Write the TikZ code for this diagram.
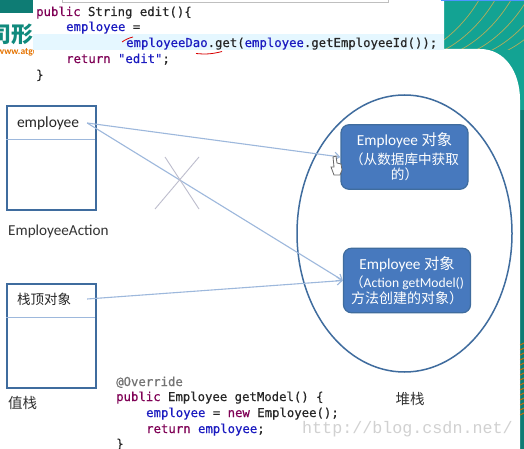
\documentclass[tikz,border=0pt]{standalone}
\usepackage{fontspec}
\setmainfont{Carlito}
\newfontfamily\cjk{Noto Sans CJK SC}
\newfontfamily\codefont[FakeBold=0.5]{DejaVu Sans Mono}
\newfontfamily\markfont{Liberation Mono}
\usetikzlibrary{arrows.meta,positioning}
\definecolor{teal1}{HTML}{13A393}
\definecolor{teal2}{HTML}{0E7C74}
\definecolor{hatchgold}{HTML}{B3AE5A}
\definecolor{frameblue}{HTML}{3F6C9E}
\definecolor{linkblue}{HTML}{9DB8DC}
\definecolor{objblue}{HTML}{4779BE}
\definecolor{kwcolor}{HTML}{7F0055}
\definecolor{fieldcolor}{HTML}{1A1AC0}
\newcommand{\kw}[1]{\textcolor{kwcolor}{#1}}
\newcommand{\fld}[1]{\textcolor{fieldcolor}{#1}}
\begin{document}
\begin{tikzpicture}[x=1pt,y=-1pt,
  code/.style={anchor=base west,inner sep=0pt,font=\codefont\fontsize{12.3}{14}\selectfont,text=black!85},
  stackbox/.style={draw=frameblue,line width=1.9pt,anchor=north west,minimum width=89pt,minimum height=104pt,inner sep=0pt},
  divider/.style={draw=linkblue,line width=1pt},
  slot/.style={text width=62pt,inner sep=8pt,font=\fontsize{15.5}{17}\selectfont,text=black!85},
  objbox/.style={draw=frameblue,line width=1.2pt,fill=objblue,rounded corners=8pt,minimum width=127pt,minimum height=64.5pt,inner sep=0pt,align=center,text=white,font=\fontsize{13.6}{15.5}\selectfont},
  caption/.style={inner sep=0pt,text=black!80,font=\fontsize{15.2}{17}\selectfont},
  link/.style={draw=linkblue,line width=1.1pt,-{Straight Barb[length=5pt,width=8pt]}},
  crossout/.style={draw=black!10!blue!15!gray!45,line width=0.9pt}]
  \useasboundingbox (0,0) rectangle (524,449);
  \fill[teal1] (444,0) rectangle (524,449);
  \fill[teal2] (520,110) rectangle (524,449);
  \begin{scope}
    \clip (444,2) rectangle (524,50);
    \foreach \i in {-20,-4,...,90}
      \draw[hatchgold,line width=0.7pt] (444+\i,52) .. controls (444+\i+22,42) and (444+\i+42,22) .. (444+\i+55,0);
  \end{scope}
  \fill[white] (0,0) -- (444,0) -- (444,49) -- (480,49) .. controls (505,49) and (520,72) .. (520,100) -- (520,449) -- (0,449) -- cycle;
  \fill[teal2] (0,0) rectangle (33,13);
  \begin{scope}
    \clip (0,14) rectangle (33,60);
    \node[inner sep=0pt,text=teal1!85!black,font=\cjk\bfseries\fontsize{22}{24}\selectfont] (logo) at (12,34) {司形};
    \node[inner sep=0pt,text=orange!90!black,anchor=base west,font=\bfseries\fontsize{9.5}{11}\selectfont] (logourl) at (-3,55) {www.atguigu};
  \end{scope}
  \fill[blue!30!cyan!10] (33,34) rectangle (444,50);
  \draw[black!25] (62,2) -- (62,0);
  \draw[black!25] (62,2) -- (388,2) -- (388,0);
  \fill[blue!60!cyan!70] (441,0) rectangle (524,1.5);
  \foreach \j in {345,350,...,415}
    \draw[orange!85!black,line width=0.9pt] (520,\j) -- (524,\j-2);

  \node[code] (c1) at (36,16) {\kw{public} String edit()\{};
  \node[code] (c2) at (66,31) {\fld{employee} =};
  \node[code] (c3) at (126,47) {\fld{employeeDao}.get(\fld{employee}.getEmployeeId());};
  \node[code] (c4) at (66,63) {\kw{return} \fld{"edit"};};
  \node[code] (c5) at (36,79) {\}};
  \draw[red!85!black,line width=0.8pt] (122,42) to[bend left=10] (133,37);
  \draw[red!85!black,line width=0.8pt] (196,53.5) to[bend right=10] (222,51.5);

  \node[stackbox] (actionbox) at (6,105) {};
  \node[stackbox] (valuebox) at (6,283) {};
  \draw[divider] (6,139.5) -- (95,139.5);
  \draw[divider] (6,317.5) -- (95,317.5);
  \node[slot] (emp) at (48,123) {employee};
  \node[slot] (top) at (48,299) {\cjk\fontsize{13.5}{16}\selectfont 栈顶对象};
  \node[caption,anchor=west] (actionname) at (8,231) {EmployeeAction};
  \node[caption,anchor=west,font=\cjk\fontsize{14.5}{17}\selectfont] (valuename) at (8,403) {值栈};

  \draw[frameblue,line width=1.5pt] (404.5,233.5) ellipse [x radius=107.5,y radius=138.5];
  \node[objbox] (obja) at (404.5,157) {{\fontsize{15.3}{17}\selectfont Employee {\cjk 对象}}\\[3pt]{\cjk （从数据库中获取}\\{\cjk 的）}};
  \node[objbox] (objb) at (407,280.5) {{\fontsize{15.3}{17}\selectfont Employee {\cjk 对象}}\\[3pt]{\cjk （}Action getModel()\\{\cjk\fontsize{14}{15.5}\selectfont 方法创建的对象）}};
  \node[caption,font=\cjk\fontsize{14.5}{17}\selectfont] (heapname) at (410,399) {堆栈};

  \draw[link] (emp.east) -- (obja.west);
  \draw[link] (emp.east) -- (objb.west);
  \draw[link] (top.east) -- (objb.west);
  \draw[crossout] (165,157) -- (199,209);
  \draw[crossout] (199,157) -- (155,209);
  \draw[black!60,fill=white,line width=0.8pt] (333,157) -- (336,156) -- (337,163) -- (341,164) -- (342,170) -- (340,175) -- (334,175) -- (331,167) -- (334,167) -- cycle;

  \node[code,text=black!55] (m1) at (116,386) {@Override};
  \node[code] (m2) at (116,401) {\kw{public} Employee getModel() \{};
  \node[code] (m3) at (146,417) {\fld{employee} = \kw{new} Employee();};
  \node[code] (m4) at (146,433) {\kw{return} \fld{employee};};
  \node[code] (m5) at (116,448) {\}};
  \node[inner sep=0pt,anchor=base west,text=black!18,font=\markfont\fontsize{16.7}{18}\selectfont] (mark) at (302,433) {http://blog.csdn.net/};
\end{tikzpicture}
\end{document}
